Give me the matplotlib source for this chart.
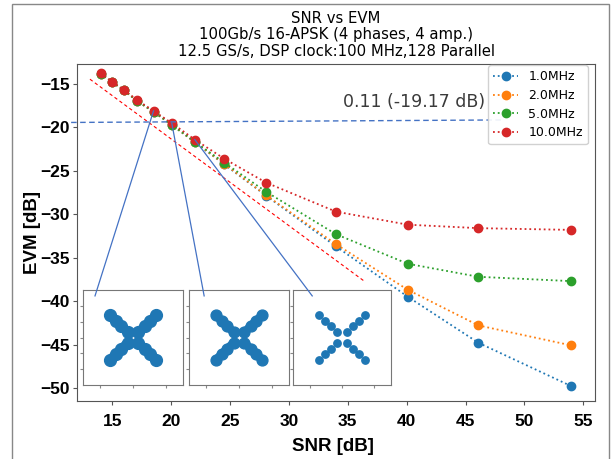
import numpy as np
import matplotlib
matplotlib.use("Agg")
from matplotlib import pyplot as plt
from matplotlib.lines import Line2D
from matplotlib.patches import Rectangle

# measured points (SNR in dB, EVM in dB)
snr = [14.0, 15.0, 16.0, 17.1, 18.5, 20.05, 22.0, 24.5, 28.05, 34.0, 40.1, 46.1, 54.0]
evm_1mhz = [-13.8, -14.8, -15.75, -16.95, -18.2, -19.7, -21.7, -24.25, -27.85, -33.7, -39.5, -44.8, -49.8]
evm_2mhz = [-13.8, -14.8, -15.75, -16.95, -18.2, -19.7, -21.7, -24.2, -27.8, -33.45, -38.7, -42.8, -45.1]
evm_5mhz = [-13.8, -14.8, -15.75, -16.95, -18.2, -19.7, -21.65, -24.05, -27.4, -32.3, -35.7, -37.2, -37.7]
evm_10mhz = [-13.77, -14.74, -15.7, -16.84, -18.1, -19.5, -21.4, -23.6, -26.35, -29.7, -31.2, -31.6, -31.8]
labels = ["1.0MHz", "2.0MHz", "5.0MHz", "10.0MHz"]
colors = ["tab:blue", "tab:orange", "tab:green", "tab:red"]

# red dashed reference line, blue dashed threshold line
ref_snr = [13.1, 36.4]
ref_evm = [-14.45, -37.7]
thr_snr = [11.5, 48.2]
thr_evm = [-19.43, -19.14]
thr_text = "0.11 (-19.17 dB)"

# constellation insets: 16-APSK, 4 phases x 4 amplitudes
amps = [0.9, 2.0, 3.0, 4.0]
phases = [45, 135, 225, 315]
inset_from = [(18.5, -18.1), (20.05, -19.5), (22.0, -21.4)]
inset_to = [(13.53, -39.4), (22.8, -39.4), (31.98, -39.4)]

W, H = 614, 459
fig = plt.figure(figsize=(W / 100, H / 100), dpi=100)
ax = fig.add_axes([77 / W, 1 - 401 / H, (595 - 77) / W, (401 - 64) / H])

for vals, lab, c in zip([evm_1mhz, evm_2mhz, evm_5mhz, evm_10mhz], labels, colors):
    ax.plot(snr, vals, ':', color=c, marker='o', markersize=6, linewidth=1.3, label=lab)

ax.plot(ref_snr, ref_evm, '--', color='red', linewidth=0.8, dashes=(3, 2.5))
ax.plot(thr_snr, thr_evm, '--', color='#4472c4', linewidth=1.0, dashes=(4, 2.5), clip_on=False)
ax.text(40.65, -17.1, thr_text, fontsize=12.5, color='#3a3a3a', ha='center', va='center')

ax.set_xlim(12.0, 56.0)
ax.set_ylim(-51.5, -12.7)
ax.set_xticks([15, 20, 25, 30, 35, 40, 45, 50, 55])
ax.set_yticks([-15, -20, -25, -30, -35, -40, -45, -50])
for lab in ax.get_xticklabels() + ax.get_yticklabels():
    lab.set_fontfamily('Liberation Sans')
    lab.set_fontweight('bold')
    lab.set_fontsize(12.5)
for sp in ax.spines.values():
    sp.set_color('#555555')
ax.tick_params(colors='#555555', labelcolor='black', length=3)
ax.tick_params(axis='x', pad=6)
ax.tick_params(axis='y', pad=2)

ax.set_xlabel("SNR [dB]", fontfamily='Liberation Sans', fontweight='bold', fontsize=13.5)
ax.set_ylabel("EVM [dB]", fontfamily='Liberation Sans', fontweight='bold', fontsize=13.5)
ax.xaxis.set_label_coords(0.5 - 3 / 518, -(438 - 401) / 337)
ax.yaxis.set_label_coords(-(77 - 41) / 518, 0.5)
ax.set_title("SNR vs EVM\n100Gb/s 16-APSK (4 phases, 4 amp.)\n12.5 GS/s, DSP clock:100 MHz,128 Parallel",
             fontsize=10.7, linespacing=1.12, pad=6)

leg = ax.legend(loc='upper right', bbox_to_anchor=(1 - 6 / 518, 1.0), borderaxespad=0.1,
                fontsize=9, handlelength=2, labelspacing=0.45, framealpha=0.9)

# constellation insets
inset_boxes = [(83, 183), (189, 289), (293, 391)]
arm_width = [6.5, 6.0, 0]
dot_size = [8.5, 7.8, 5.3]
for k, (x0, x1) in enumerate(inset_boxes):
    iax = fig.add_axes([x0 / W, 1 - 385 / H, (x1 - x0) / W, (385 - 290) / H])
    for ph in phases:
        cx = [a * np.cos(np.radians(ph)) for a in amps]
        cy = [a * np.sin(np.radians(ph)) for a in amps]
        if arm_width[k] > 0:
            iax.plot(cx, cy, '-', color='tab:blue', linewidth=arm_width[k], solid_capstyle='round')
        iax.plot(cx, cy, 'o', color='tab:blue', markersize=dot_size[k])
    iax.set_xlim(-6.1, 6.1)
    iax.set_ylim(-6.0, 6.0)
    iax.set_xticks([-4, 0, 4])
    iax.set_yticks([-4, -2, 0, 2, 4])
    iax.tick_params(length=2, labelbottom=False, labelleft=False, colors='#888888')
    for sp in iax.spines.values():
        sp.set_color('#777777')

# connectors from data points down to insets (drawn over everything)
for (sx, sy), (ex, ey) in zip(inset_from, inset_to):
    fig.add_artist(Line2D([sx, ex], [sy, ey], transform=ax.transData, color='#4472c4', linewidth=0.9))

# screenshot frame around the figure
fig.add_artist(Rectangle((12 / W, -0.05), (609 - 12) / W, 1.05 - 4 / H, transform=fig.transFigure,
                         fill=False, edgecolor='#888888', linewidth=1.0))

fig.savefig("out.png", dpi=100)
